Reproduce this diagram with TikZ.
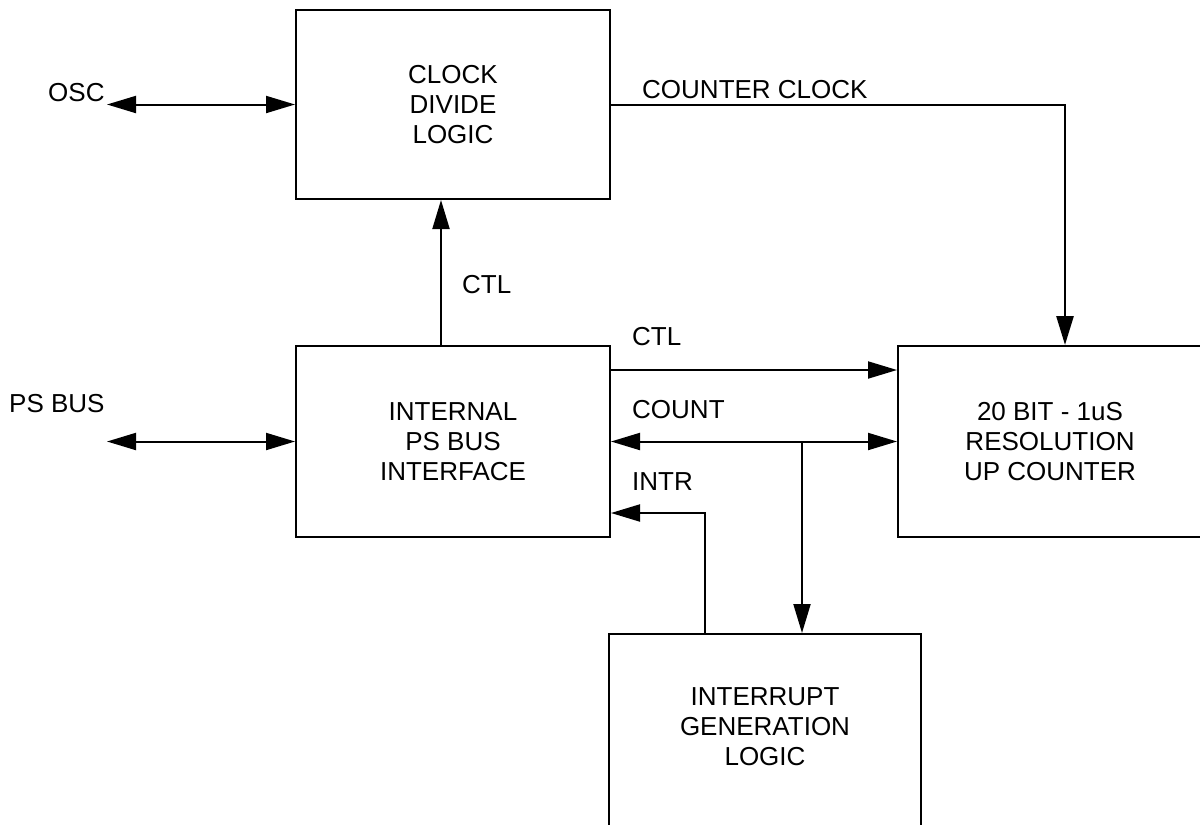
\documentclass[tikz,border=0pt]{standalone}
\usepackage{fontspec}
\setmainfont{Liberation Sans}
\usetikzlibrary{arrows.meta}
\begin{document}
\begin{tikzpicture}[x=1pt,y=-1pt,
  every node/.style={font=\fontsize{26}{30}\selectfont},
  blk/.style={draw,line width=2pt,align=center,inner sep=0pt,minimum width=#1},
  lbl/.style={anchor=base west,inner sep=0pt},
  wire/.style={line width=2pt},
  tip/.style={-{Triangle[length=29pt,width=17pt]}},
  dtip/.style={{Triangle[length=29pt,width=17pt]}-{Triangle[length=29pt,width=17pt]}}]
\clip (0,0) rectangle (1200,825);
\useasboundingbox (0,0) rectangle (1200,825);
% boxes
\node[blk=314pt,minimum height=189pt] (clk) at (453,104.5) {CLOCK\\DIVIDE\\LOGIC};
\node[blk=314pt,minimum height=191pt] (ps) at (453,441.5) {INTERNAL\\PS BUS\\INTERFACE};
\node[blk=304pt,minimum height=191pt] (ctr) at (1050,441.5) {20 BIT - 1uS\\RESOLUTION\\UP COUNTER};
\node[blk=312pt,minimum height=300pt] (irq) at (765,784) {};
\node[align=center,inner sep=0pt] (irqt) at (765,727) {INTERRUPT\\GENERATION\\LOGIC};
% labels
\node[lbl] (losc) at (48,101) {OSC};
\node[lbl] (lps) at (9,412) {PS BUS};
\node[lbl] (lcc) at (642,98) {COUNTER CLOCK};
\node[lbl] (lctlv) at (462,293) {CTL};
\node[lbl] (lctlh) at (632,345) {CTL};
\node[lbl] (lcount) at (632,418) {COUNT};
\node[lbl] (lintr) at (632,490) {INTR};
% coordinates
\coordinate (oscend) at (107,104.5);
\coordinate (psend) at (107,441.5);
\coordinate (cc) at (1065,105);
\coordinate (ctlv) at (441,0);
\coordinate (ctlh) at (0,370);
\coordinate (br) at (802,441.5);
\coordinate (intr) at (705,513);
% connectors
\draw[wire,dtip] (oscend) -- (clk.west);
\draw[wire,dtip] (psend) -- (ps.west);
\draw[line width=2.7pt,tip] (clk.east |- cc) -- (cc) -- (cc |- ctr.north);
\draw[wire,tip] (ctlv |- ps.north) -- (ctlv |- clk.south);
\draw[wire,tip] (ps.east |- ctlh) -- (ctr.west |- ctlh);
\draw[wire,dtip] (ps.east) -- (ctr.west);
\draw[wire,tip] (br) -- (br |- irq.north);
\draw[wire,tip] (intr |- irq.north) -- (intr) -- (ps.east |- intr);
\end{tikzpicture}
\end{document}
